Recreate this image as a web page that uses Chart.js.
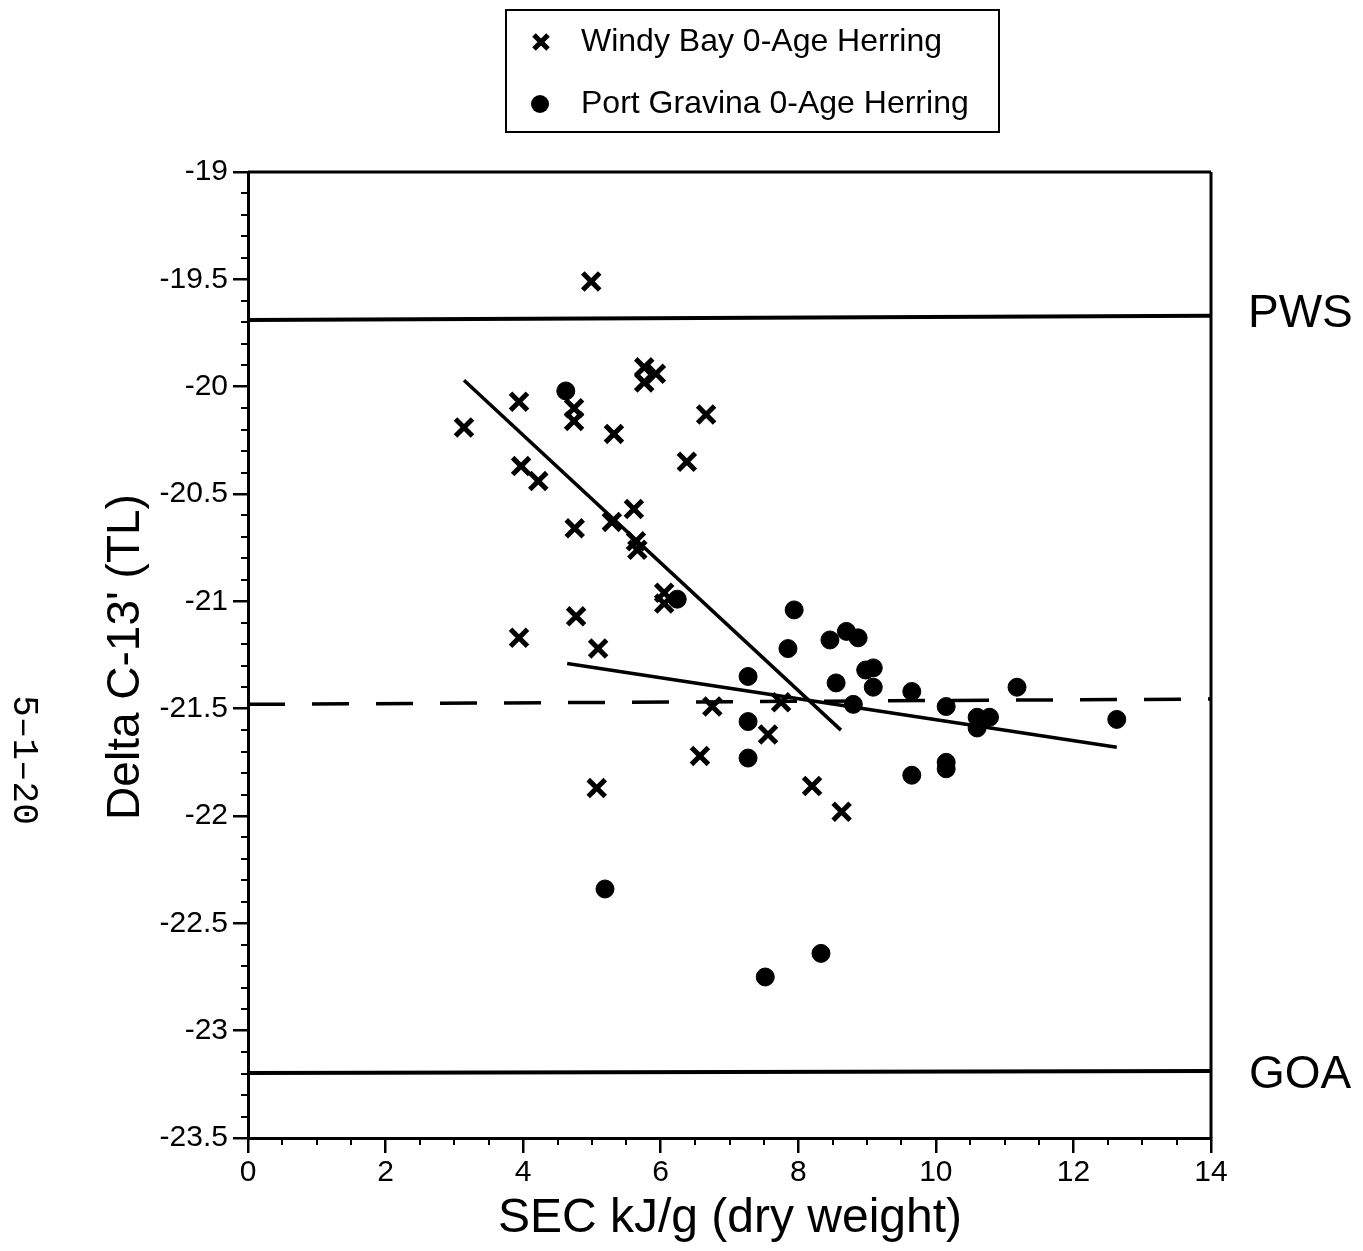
<!DOCTYPE html>
<html>
<head>
<meta charset="utf-8">
<script src="https://cdn.jsdelivr.net/npm/chart.js@4.4.1/dist/chart.umd.min.js"></script>
<style>
  html, body { margin: 0; padding: 0; background: #fff; }
  #wrap { position: relative; width: 1363px; height: 1251px; }
</style>
</head>
<body>
<div id="wrap"><canvas id="c" width="1363" height="1251"></canvas></div>
<script>
// ---- Data ----
const windyX = [4.99, 3.14, 3.94, 3.97, 4.22, 4.74, 4.74, 4.75, 4.77, 3.94, 5.09, 5.07, 5.32, 5.76, 5.93, 5.76, 6.66, 6.38, 5.61, 5.29, 5.64, 5.66, 6.05, 6.05, 6.75, 7.75, 7.56, 6.57, 8.20, 8.63];
const windyY = [-19.51, -20.19, -20.07, -20.37, -20.44, -20.10, -20.16, -20.66, -21.07, -21.17, -21.22, -21.87, -20.22, -19.91, -19.94, -19.98, -20.13, -20.35, -20.57, -20.63, -20.72, -20.76, -20.96, -21.01, -21.49, -21.47, -21.62, -21.72, -21.86, -21.98];

const gravinaX = [4.62, 6.24, 5.19, 7.94, 7.85, 7.27, 7.27, 7.27, 8.46, 8.70, 8.87, 8.55, 8.98, 9.09, 9.09, 8.80, 9.65, 10.15, 9.65, 10.15, 10.15, 10.60, 10.78, 10.60, 11.18, 12.63, 7.52, 8.33];
const gravinaY = [-20.02, -20.99, -22.34, -21.04, -21.22, -21.35, -21.56, -21.73, -21.18, -21.14, -21.17, -21.38, -21.32, -21.31, -21.40, -21.48, -21.42, -21.49, -21.81, -21.75, -21.78, -21.54, -21.54, -21.59, -21.40, -21.55, -22.75, -22.64];

// fitted / reference lines (endpoints)
const windyFitX = [3.14, 8.62];
const windyFitY = [-19.97, -21.60];
const gravinaFitX = [4.64, 12.63];
const gravinaFitY = [-21.29, -21.68];
const pwsX = [0, 14];
const pwsY = [-19.69, -19.67];
const goaX = [0, 14];
const goaY = [-23.197, -23.188];
const midX = [0, 14];
const midY = [-21.48, -21.455];

const seriesNames = ["Windy Bay 0-Age Herring", "Port Gravina 0-Age Herring"];
const refLabels = ["PWS", "GOA"];
const xTitle = "SEC kJ/g (dry weight)";
const yTitle = "Delta C-13' (TL)";
const pageMark = "5\u20131\u201320";
const xRange = [0, 14];
const yRange = [-23.5, -19];

const pts = (xs, ys) => xs.map((x, i) => ({ x: x, y: ys[i] }));

const FONT = "'Liberation Sans', Arial, Helvetica, sans-serif";

const extras = {
  id: 'extras',
  afterDraw(chart) {
    const ctx = chart.ctx;
    const a = chart.chartArea;
    const xs = chart.scales.x, ys = chart.scales.y;
    ctx.save();
    ctx.strokeStyle = '#000';
    ctx.fillStyle = '#000';
    // frame top & right
    ctx.lineWidth = 3;
    ctx.beginPath();
    ctx.moveTo(a.left, a.top); ctx.lineTo(a.right, a.top);
    ctx.moveTo(a.right, a.top); ctx.lineTo(a.right, a.bottom);
    ctx.stroke();
    // minor ticks
    ctx.lineWidth = 2;
    ctx.beginPath();
    for (let v = xRange[0]; v <= xRange[1] + 1e-9; v += 0.5) {
      if (Math.abs(v / 2 - Math.round(v / 2)) < 1e-9) continue;
      const px = Math.round(xs.getPixelForValue(v));
      ctx.moveTo(px, a.bottom); ctx.lineTo(px, a.bottom + 7);
    }
    for (let k = 0; k <= 45; k++) {
      if (k % 5 === 0) continue;
      const v = yRange[0] + k * 0.1;
      const py = Math.round(ys.getPixelForValue(v));
      ctx.moveTo(a.left - 7, py); ctx.lineTo(a.left, py);
    }
    ctx.stroke();

    // PWS / GOA labels
    ctx.font = "46px " + FONT;
    ctx.textAlign = 'left';
    ctx.textBaseline = 'alphabetic';
    ctx.fillText(refLabels[0], a.right + 37, 327);
    ctx.fillText(refLabels[1], a.right + 38, 1088);

    // axis titles
    ctx.font = "48px " + FONT;
    ctx.textAlign = 'center';
    ctx.textBaseline = 'middle';
    ctx.fillText(xTitle, 730, 1219);
    ctx.save();
    ctx.translate(126, 657);
    ctx.rotate(-Math.PI / 2);
    ctx.font = "46px " + FONT;
    ctx.fillText(yTitle, 0, 0);
    ctx.restore();

    // page mark
    ctx.save();
    ctx.translate(24, 760);
    ctx.rotate(Math.PI / 2);
    ctx.font = "36px 'Liberation Mono', 'DejaVu Sans Mono', monospace";
    ctx.textAlign = 'center';
    ctx.textBaseline = 'middle';
    ctx.fillText(pageMark, 0, 0);
    ctx.restore();

    // legend
    ctx.lineWidth = 2;
    ctx.strokeRect(506, 10, 493, 122);
    ctx.lineWidth = 5;
    ctx.lineCap = 'butt';
    ctx.beginPath();
    ctx.moveTo(541 - 7, 42 - 7); ctx.lineTo(541 + 7, 42 + 7);
    ctx.moveTo(541 + 7, 42 - 7); ctx.lineTo(541 - 7, 42 + 7);
    ctx.stroke();
    ctx.beginPath();
    ctx.arc(540, 104, 9, 0, Math.PI * 2);
    ctx.fill();
    ctx.font = "32px " + FONT;
    ctx.textAlign = 'left';
    ctx.textBaseline = 'alphabetic';
    ctx.fillText(seriesNames[0], 581, 51);
    ctx.fillText(seriesNames[1], 581, 113);
    ctx.restore();
  }
};

const lineDs = (label, xs, ys, width, dash) => ({
  label: label,
  data: pts(xs, ys),
  showLine: true,
  borderColor: '#000',
  borderWidth: width,
  borderDash: dash || [],
  pointRadius: 0,
  pointHoverRadius: 0,
  fill: false,
  tension: 0
});

new Chart(document.getElementById('c'), {
  type: 'scatter',
  data: {
    datasets: [
      lineDs('PWS', pwsX, pwsY, 4),
      lineDs('GOA', goaX, goaY, 4),
      lineDs('mid', midX, midY, 3.5, [37, 27]),
      lineDs('Windy fit', windyFitX, windyFitY, 3.5),
      lineDs('Gravina fit', gravinaFitX, gravinaFitY, 3.5),
      {
        label: seriesNames[0],
        data: pts(windyX, windyY),
        pointStyle: 'crossRot',
        pointRadius: 12,
        borderColor: '#000',
        backgroundColor: '#000',
        pointBorderWidth: 5
      },
      {
        label: seriesNames[1],
        data: pts(gravinaX, gravinaY),
        pointStyle: 'circle',
        pointRadius: 9,
        borderColor: '#000',
        backgroundColor: '#000',
        pointBorderWidth: 1
      }
    ]
  },
  options: {
    responsive: false,
    animation: false,
    devicePixelRatio: 1,
    layout: { padding: { top: 172, right: 152, left: 0, bottom: 0 } },
    plugins: { legend: { display: false }, tooltip: { enabled: false } },
    scales: {
      x: {
        type: 'linear',
        min: xRange[0], max: xRange[1],
        afterFit: (s) => { s.height = 113; },
        ticks: { stepSize: 2, color: '#000', font: { family: FONT, size: 30 }, padding: 2, maxRotation: 0, callback: (v) => String(v) },
        grid: { display: true, drawOnChartArea: false, drawTicks: true, tickLength: 15, color: '#000', lineWidth: 2.5 },
        border: { display: true, color: '#000', width: 3 }
      },
      y: {
        type: 'linear',
        min: yRange[0], max: yRange[1],
        afterFit: (s) => { s.width = 248; },
        ticks: { stepSize: 0.5, color: '#000', font: { family: FONT, size: 30 }, padding: 5, callback: (v) => String(Math.round(v * 10) / 10) },
        grid: { display: true, drawOnChartArea: false, drawTicks: true, tickLength: 15, color: '#000', lineWidth: 2.5 },
        border: { display: true, color: '#000', width: 3 }
      }
    }
  },
  plugins: [extras]
});
</script>
</body>
</html>
